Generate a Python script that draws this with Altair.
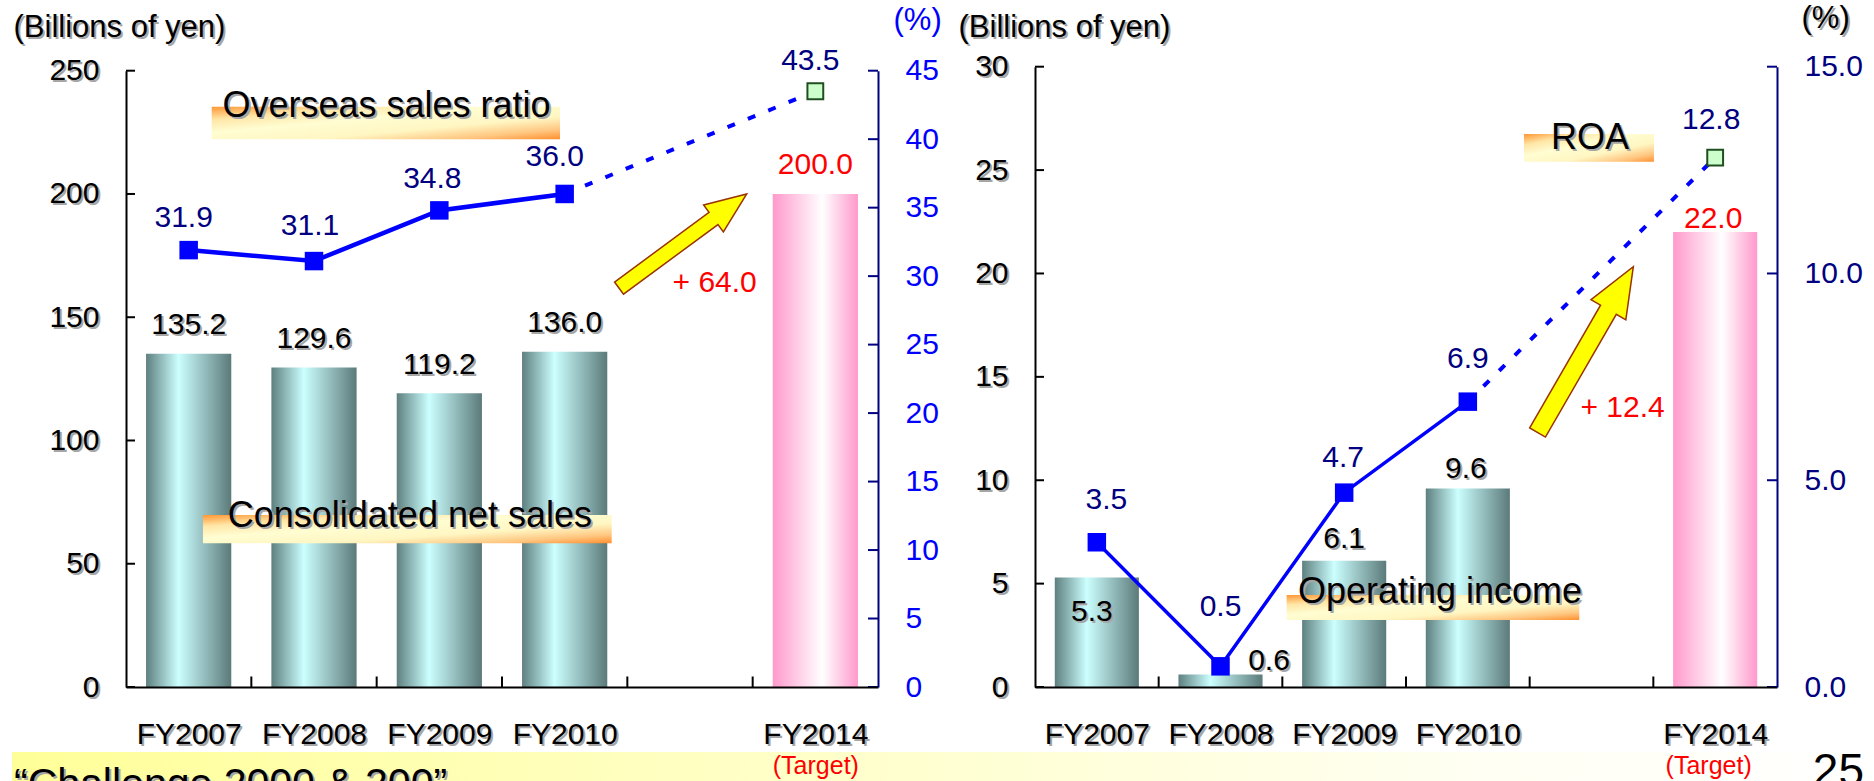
import json

import altair as alt
import pandas as pd

# ---------------------------------------------------------------- data
slots = ["FY2007", "FY2008", "FY2009", "FY2010", "", "FY2014"]
years = ["FY2007", "FY2008", "FY2009", "FY2010", "FY2014"]
target_label = "(Target)"

net_sales = [135.2, 129.6, 119.2, 136.0, 200.0]          # billions of yen
overseas_ratio = [31.9, 31.1, 34.8, 36.0, 43.5]          # %
operating_income = [5.3, 0.6, 6.1, 9.6, 22.0]            # billions of yen
roa = [3.5, 0.5, 4.7, 6.9, 12.8]                         # %

sales_ticks = [0, 50, 100, 150, 200, 250]
ratio_ticks = [0, 5, 10, 15, 20, 25, 30, 35, 40, 45]
income_ticks = [0, 5, 10, 15, 20, 25, 30]
roa_ticks = [0, 5, 10, 15]

footer_text = "\u201cChallenge 2000 & 200\u201d"
page_no = "25"

# ---------------------------------------------------------------- style
FONT = "Liberation Sans"
W, H = 1874, 781
BLUE, NAVY, RED, BLACK = "#0000FF", "#000080", "#FF0000", "#000000"
SHADOW = "#A6A6A6"
# block arrow pointing along +x, drawn inside the unit square [-1, 1]
ARROW = ("M -1 -0.095 L 0.48 -0.095 L 0.48 -0.21 L 1 0 "
         "L 0.48 0.21 L 0.48 0.095 L -1 0.095 Z")


def gradient(stops, x2=1, y2=0):
    return alt.LinearGradient(
        gradient="linear", x1=0, y1=0, x2=x2, y2=y2,
        stops=[alt.GradientStop(offset=o, color=c) for o, c in stops])


TEAL = gradient([(0, "#5E7F7F"), (0.38, "#CCFFFF"), (1, "#5C7A7A")])
PINK = gradient([(0, "#FF99CC"), (0.58, "#FFFFFF"), (1, "#FF99CC")])
TAG = gradient([(0, "#FF9633"), (0.2, "#FFE6A6"), (0.4, "#FFFDD2"),
                (0.65, "#FFF6C2"), (0.85, "#FFC680"), (1, "#FF8F2E")], x2=1, y2=1)
BANNER = gradient([(0, "#FFFF99"), (0.45, "#FFFFCC"), (0.8, "#FFFFF4"), (1, "#FFFFFF")])

# placement of the two plot areas and their annotations (annotation
# anchors are given in each panel's own data units)
LEFT = dict(
    x0=126, x1=878, top=70.7, base=687, ymax=250, pmax=45,
    bars=net_sales, line=overseas_ratio,
    val_ticks=sales_ticks, pct_ticks=ratio_ticks, pct_fmt="d",
    pct_label_color=BLUE, pct_title_color=BLUE, pct_shadow=False,
    title_x=13, title_y=36, pct_title_x=893, pct_title_y=29,
    line_width=4.5,
    bar_dx=[0, 0, 0, 0, 0], bar_dy=[19.5, 19.5, 19.5, 19.5, 19.5],
    line_dx=[-5, -4, -7, -10, -5], line_dy=[23, 26, 22, 28, 21],
    tags=[("Overseas sales ratio", 0.684, 3.463, 222.2, 235.4, 2.078, 231.3),
          ("Consolidated net sales", 0.614, 3.875, 58.3, 69.8, 2.265, 65.0)],
    arrow=dict(x=4.443, y=180.9, length=158.6, angle=323.6),
    delta_at=(4.697, 160.35),
    target_dx=0,
)
RIGHT = dict(
    x0=1035, x1=1777, top=66.7, base=687, ymax=30, pmax=15,
    bars=operating_income, line=roa,
    val_ticks=income_ticks, pct_ticks=roa_ticks, pct_fmt=".1f",
    pct_label_color=NAVY, pct_title_color=BLACK, pct_shadow=True,
    title_x=958, title_y=36, pct_title_x=1801, pct_title_y=27,
    line_width=3.5,
    bar_dx=[-5, 48.5, 0, -2, -2], bar_dy=[-44, 4.6, 13, 10.5, 4],
    line_dx=[9.6, 0, -1, 0, -4], line_dy=[33, 50, 25.7, 33.7, 28.7],
    tags=[("ROA", 3.954, 5.005, 25.40, 26.74, 4.488, 26.00),
          ("Operating income", 2.035, 4.401, 3.240, 4.449, 3.275, 4.048)],
    arrow=dict(x=4.451, y=16.32, length=191.5, angle=300),
    delta_at=(4.751, 13.08),
    target_dx=-7,
)


def panel_layers(p):
    n = len(slots)
    sp = (p["x1"] - p["x0"]) / n                 # px per category slot
    kv = (p["base"] - p["top"]) / p["ymax"]      # px per billion yen
    kp = (p["base"] - p["top"]) / p["pmax"]      # px per percent point

    xs = alt.Scale(domain=[0, n], range=[p["x0"], p["x1"]], nice=False, zero=False, padding=0)
    vs = alt.Scale(domain=[0, p["ymax"]], range=[p["base"], p["top"]], nice=False, zero=False, padding=0)
    ps = alt.Scale(domain=[0, p["pmax"]], range=[p["base"], p["top"]], nice=False, zero=False, padding=0)

    def X(f, axis=None):
        return alt.X(f, type="quantitative", scale=xs, axis=axis)

    def YV(f, axis=None):
        return alt.Y(f, type="quantitative", scale=vs, axis=axis)

    def YP(f, axis=None):
        return alt.Y(f, type="quantitative", scale=ps, axis=axis)

    common = dict(ticks=False, tickSize=0, grid=False, labelFont=FONT,
                  labelFlush=False, labelOverlap=False, labelLimit=1000,
                  titleFont=FONT, titleFontWeight="normal", titleFontSize=31,
                  titleAngle=0, titleAlign="left", titleBaseline="alphabetic",
                  titleLimit=1000, domainWidth=2)
    centers_all = [i + 0.5 for i in range(n)]
    label_expr = json.dumps(slots) + "[floor(datum.value)]"

    def cat_axis(color, pad, shift, show_domain, z):
        return alt.Axis(orient="bottom", offset=p["base"] - H, values=centers_all,
                        labelExpr=label_expr, labelColor=color, labelFontSize=30,
                        labelPadding=pad, labelOffset=shift, labelBaseline="top",
                        domain=show_domain, domainColor=BLACK, title="", zindex=z, **common)

    def target_axis():
        return alt.Axis(orient="bottom", offset=p["base"] - H, values=[n - 0.5],
                        labelExpr=json.dumps(target_label), labelColor=RED, labelFontSize=25,
                        labelPadding=66, labelOffset=p["target_dx"], labelBaseline="top",
                        domain=False, title="", zindex=1, **common)

    def val_axis(color, pad, shift, show_domain, z):
        return alt.Axis(orient="left", offset=-p["x0"], values=p["val_ticks"], format="d",
                        labelColor=color, labelFontSize=30, labelPadding=pad, labelOffset=shift,
                        domain=show_domain, domainColor=BLACK, title="(Billions of yen)",
                        titleColor=color, titleX=p["title_x"] - p["x0"] + shift,
                        titleY=p["title_y"] + shift, zindex=z, **common)

    def pct_axis(label_color, title_color, show_labels, show_domain, shift, z):
        return alt.Axis(orient="right", offset=p["x1"] - W, values=p["pct_ticks"],
                        format=p["pct_fmt"], labels=show_labels, labelColor=label_color,
                        labelFontSize=30, labelPadding=27, domain=show_domain, domainColor=NAVY,
                        title="(%)", titleColor=title_color,
                        titleX=p["pct_title_x"] - p["x1"] + shift,
                        titleY=p["pct_title_y"] + shift, zindex=z, **common)

    layers = []
    vt = pd.DataFrame({"y": p["val_ticks"], "xa": 0.0, "xb": 9 / sp})
    pt = pd.DataFrame({"y": p["pct_ticks"], "xa": n - 10 / sp, "xb": float(n)})
    ct = pd.DataFrame({"x": [float(i) for i in range(1, n)], "ya": 0.0, "yb": 10.5 / kv})

    # drop shadows of the axis texts, carried by invisible rules
    layers.append(alt.Chart(vt).mark_rule(opacity=0).encode(
        x=X("xa", cat_axis(SHADOW, 34, 2, False, 0)), x2="xb",
        y=YV("y", val_axis(SHADOW, 25, 2, False, 0))))
    if p["pct_shadow"]:
        layers.append(alt.Chart(pt).mark_rule(opacity=0).encode(
            x=X("xa"), x2="xb", y=YP("y", pct_axis(SHADOW, SHADOW, False, False, 2, 0))))

    # bars
    centers = [slots.index(y) + 0.5 for y in years]
    half = 0.34
    bars = pd.DataFrame({"year": years,
                         "x0": [c - half for c in centers],
                         "x1": [c + half for c in centers],
                         "v": p["bars"], "base": 0.0})
    layers.append(alt.Chart(bars.iloc[:-1]).mark_rect(fill=TEAL).encode(
        x=X("x0"), x2="x1", y=YV("v"), y2="base"))
    layers.append(alt.Chart(bars.iloc[-1:]).mark_rect(fill=PINK).encode(
        x=X("x0"), x2="x1", y=YV("v"), y2="base"))

    # inward tick marks and the axes themselves
    layers.append(alt.Chart(vt).mark_rule(color=BLACK, strokeWidth=2).encode(
        x=X("xa", cat_axis(BLACK, 32, 0, True, 1)), x2="xb",
        y=YV("y", val_axis(BLACK, 27, 0, True, 1))))
    layers.append(alt.Chart(pt).mark_rule(color=NAVY, strokeWidth=2).encode(
        x=X("xa"), x2="xb",
        y=YP("y", pct_axis(p["pct_label_color"], p["pct_title_color"], True, True, 0, 1))))
    layers.append(alt.Chart(ct).mark_rule(color=BLACK, strokeWidth=2).encode(
        x=X("x", target_axis()), y=YV("ya"), y2="yb"))

    # series name tags
    for text, xa, xb, ya, yb, tx, ty in p["tags"]:
        box = pd.DataFrame({"xa": [xa], "xb": [xb], "ya": [ya], "yb": [yb]})
        layers.append(alt.Chart(box).mark_rect(fill=TAG).encode(
            x=X("xa"), x2="xb", y=YV("ya"), y2="yb"))
        lab = pd.DataFrame({"x": [tx], "y": [ty], "t": [text]})
        for color, d in ((SHADOW, 2), (BLACK, 0)):
            layers.append(alt.Chart(lab).mark_text(
                font=FONT, fontSize=36, color=color, dx=d, dy=d,
                align="center", baseline="alphabetic").encode(
                x=X("x"), y=YV("y"), text="t:N"))

    # bar value labels
    blab = pd.DataFrame({
        "x": [c + dx / sp for c, dx in zip(centers, p["bar_dx"])],
        "y": [v + dy / kv for v, dy in zip(p["bars"], p["bar_dy"])],
        "t": [f"{v:.1f}" for v in p["bars"]],
        "c": [BLACK] * (len(years) - 1) + [RED]})
    layers.append(alt.Chart(blab.iloc[:-1]).mark_text(
        font=FONT, fontSize=30, color=SHADOW, dx=2, dy=2,
        align="center", baseline="alphabetic").encode(x=X("x"), y=YV("y"), text="t:N"))
    layers.append(alt.Chart(blab).mark_text(
        font=FONT, fontSize=30, align="center", baseline="alphabetic").encode(
        x=X("x"), y=YV("y"), text="t:N", color=alt.Color("c:N", scale=None)))

    # percentage line: actual (solid) and plan (dotted)
    pts = pd.DataFrame({"x": centers, "y": p["line"]})
    layers.append(alt.Chart(pts.iloc[:-1]).mark_line(
        color=BLUE, strokeWidth=p["line_width"]).encode(x=X("x"), y=YP("y")))
    layers.append(alt.Chart(pts.iloc[-2:]).mark_line(
        color=BLUE, strokeWidth=4, strokeDash=[8, 14]).encode(x=X("x"), y=YP("y")))
    layers.append(alt.Chart(pts.iloc[:-1]).mark_point(
        shape="square", filled=True, color=BLUE, size=342, opacity=1).encode(
        x=X("x"), y=YP("y")))
    layers.append(alt.Chart(pts.iloc[-1:]).mark_point(
        shape="square", filled=True, fill="#CCFFCC", stroke="#1F4F1F",
        strokeWidth=2, size=250, opacity=1).encode(x=X("x"), y=YP("y")))
    llab = pd.DataFrame({
        "x": [c + dx / sp for c, dx in zip(centers, p["line_dx"])],
        "y": [v + dy / kp for v, dy in zip(p["line"], p["line_dy"])],
        "t": [f"{v:.1f}" for v in p["line"]]})
    layers.append(alt.Chart(llab).mark_text(
        font=FONT, fontSize=30, color=NAVY, align="center", baseline="alphabetic").encode(
        x=X("x"), y=YP("y"), text="t:N"))

    # growth arrow towards the target year
    a = p["arrow"]
    adf = pd.DataFrame({"x": [a["x"]], "y": [a["y"]]})
    layers.append(alt.Chart(adf).mark_point(
        shape=ARROW, filled=True, fill="#FFFF00", stroke="#993300", strokeWidth=1.5,
        size=a["length"] ** 2, angle=a["angle"], opacity=1).encode(x=X("x"), y=YV("y")))
    gain = p["bars"][-1] - p["bars"][3]
    ddf = pd.DataFrame({"x": [p["delta_at"][0]], "y": [p["delta_at"][1]],
                        "t": [f"+ {gain:.1f}"]})
    layers.append(alt.Chart(ddf).mark_text(
        font=FONT, fontSize=30, color=RED, align="center", baseline="alphabetic").encode(
        x=X("x"), y=YV("y"), text="t:N"))
    return layers


one = pd.DataFrame({"k": [0]})
banner = alt.Chart(one).mark_rect(fill=BANNER).encode(
    x=alt.value(12), x2=alt.value(W), y=alt.value(752), y2=alt.value(H))
footer = [
    alt.Chart(one).mark_text(text=footer_text, font=FONT, fontSize=41, color=c,
                             align="left", baseline="alphabetic", dx=d, dy=d).encode(
        x=alt.value(14), y=alt.value(797))
    for c, d in ((SHADOW, 2), (BLACK, 0))
]
page = alt.Chart(one).mark_text(text=page_no, font=FONT, fontSize=46, color=BLACK,
                                align="right", baseline="alphabetic").encode(
    x=alt.value(1864), y=alt.value(786))

chart = (
    alt.layer(banner, *panel_layers(LEFT), *panel_layers(RIGHT), *footer, page)
    .resolve_scale(x="independent", y="independent")
    .properties(width=W, height=H, padding=0, background="white",
                autosize=alt.AutoSizeParams(type="none"))
    .configure_view(strokeWidth=0)
)

chart.save("out.html", embed_options={"renderer": "svg", "actions": False})
